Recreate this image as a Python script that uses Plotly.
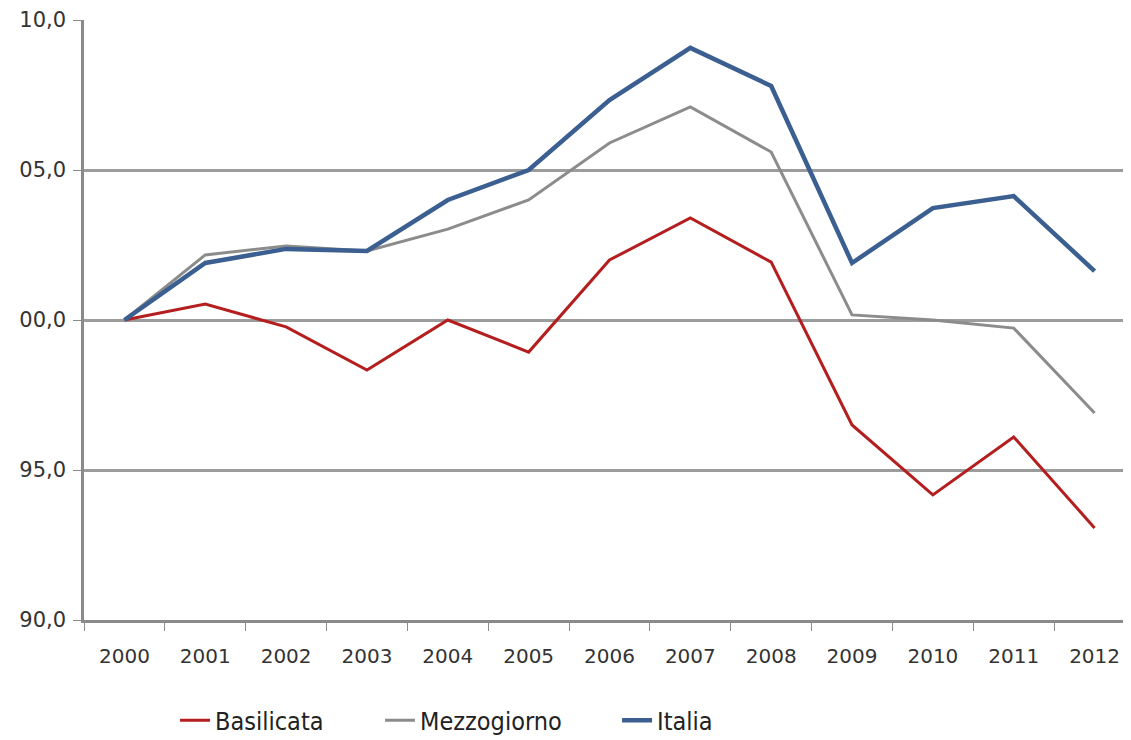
import plotly.graph_objects as go

years = ["2000","2001","2002","2003","2004","2005","2006","2007","2008","2009","2010","2011","2012"]
basilicata = [100.0, 100.53, 99.77, 98.33, 100.0, 98.93, 102.0, 103.4, 101.93, 96.5, 94.17, 96.1, 93.07]
mezzogiorno = [100.0, 102.17, 102.47, 102.3, 103.03, 104.0, 105.9, 107.1, 105.6, 100.17, 100.0, 99.73, 96.9]
italia = [100.0, 101.9, 102.37, 102.3, 104.0, 105.0, 107.33, 109.07, 107.8, 101.9, 103.73, 104.13, 101.63]
y_tickvals = [90, 95, 100, 105, 110]
y_ticktext = ["90,0", "95,0", "00,0", "05,0", "10,0"]

fig = go.Figure()
fig.add_trace(go.Scatter(x=years, y=basilicata, mode="lines", name="Basilicata",
                         line=dict(color="#B41E1E", width=3), legend="legend"))
fig.add_trace(go.Scatter(x=years, y=mezzogiorno, mode="lines", name="Mezzogiorno",
                         line=dict(color="#8C8C8C", width=3), legend="legend2"))
fig.add_trace(go.Scatter(x=years, y=italia, mode="lines", name="Italia",
                         line=dict(color="#3A5F90", width=4.5), legend="legend3"))

legfont = dict(family="Liberation Sans Narrow, DejaVu Sans Condensed, Liberation Sans", size=25, color="#222222")
def leg(x):
    return dict(orientation="h", xref="container", yref="container", x=x, y=0.037,
                xanchor="left", yanchor="middle", font=legfont, bgcolor="rgba(0,0,0,0)")

fig.update_layout(
    width=1131, height=740,
    margin=dict(l=76, r=4, t=12, b=128),
    paper_bgcolor="white", plot_bgcolor="white",
    font=dict(family="DejaVu Sans", size=20, color="#333333"),
    showlegend=True,
    legend=leg(0.1477), legend2=leg(0.3289), legend3=leg(0.5385),
)
fig.update_xaxes(type="category", range=[-0.5, 12.5], showgrid=False, automargin=False,
                 showline=True, linecolor="#8A8A8A", linewidth=2.5,
                 ticks="outside", tickson="boundaries", ticklen=8, tickcolor="#8A8A8A",
                 ticklabelstandoff=16,
                 tickfont=dict(family="DejaVu Sans", size=20, color="#333333"))
fig.update_yaxes(range=[90, 110], tickvals=y_tickvals, ticktext=y_ticktext, automargin=False,
                 showgrid=True, gridcolor="#9C9C9C", gridwidth=2.5,
                 showline=True, linecolor="#8A8A8A", linewidth=2.5,
                 ticks="outside", ticklen=8, tickcolor="#8A8A8A",
                 ticklabelstandoff=3,
                 zeroline=False,
                 tickfont=dict(family="DejaVu Sans", size=21, color="#333333"))

fig.write_html("out.html")
